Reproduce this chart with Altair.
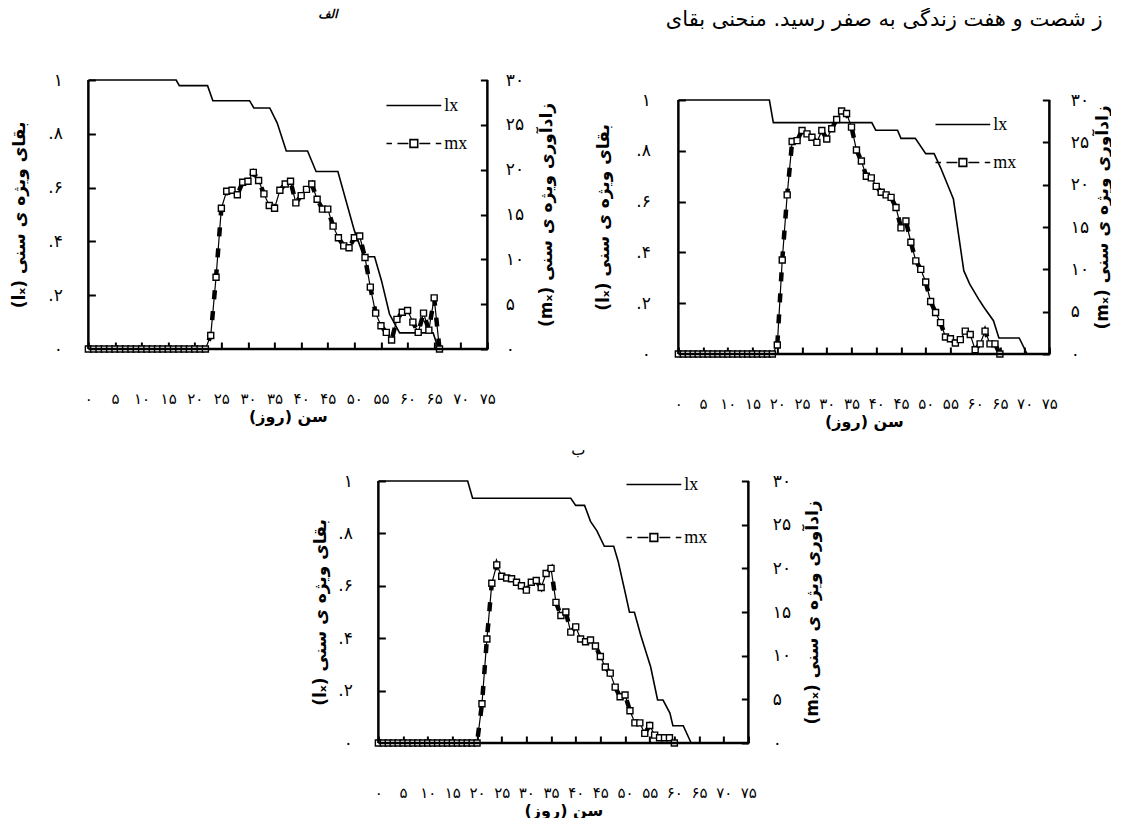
import altair as alt
import pandas as pd

# ---------------- tick values / labels ----------------
x_ticks = [0, 5, 10, 15, 20, 25, 30, 35, 40, 45, 50, 55, 60, 65, 70, 75]
x_tick_labels = ["۰", "۵", "۱۰", "۱۵", "۲۰", "۲۵", "۳۰", "۳۵", "۴۰", "۴۵",
                 "۵۰", "۵۵", "۶۰", "۶۵", "۷۰", "۷۵"]
l_ticks = [0, 0.2, 0.4, 0.6, 0.8, 1.0]
l_tick_labels = ["۰", ".۲", ".۴", ".۶", ".۸", "۱"]
r_ticks = [0, 5, 10, 15, 20, 25, 30]
r_tick_labels = ["۰", "۵", "۱۰", "۱۵", "۲۰", "۲۵", "۳۰"]

x_title = "\u200fسن (روز)\u200f"
l_title = "(lₓ) بقای ویژه ی سنی"
r_title = "(mₓ) زادآوری ویژه ی سنی"
top_text = "\u200fز شصت و هفت زندگی به صفر رسید. منحنی بقای\u200f"
title_a = "الف"
title_c = "ب"
legend_names = ["lx", "mx"]

# ---------------- panel A (top-left) ----------------
a_lx_age = [0, 16.5, 17.1, 22.4, 23.4, 30.3, 31.1, 34.1, 35.5, 37.2, 41.2, 42.8,
            46.9, 50.0, 51.8, 53.8, 55.1, 56.6, 58.5, 64.8, 65.8]
a_lx = [1.0, 1.0, 0.979, 0.979, 0.923, 0.923, 0.896, 0.896, 0.84, 0.736, 0.736,
        0.66, 0.66, 0.44, 0.343, 0.343, 0.254, 0.13, 0.06, 0.06, 0.0]
a_mx_age = list(range(0, 67))
a_mx = [0, 0, 0, 0, 0, 0, 0, 0, 0, 0, 0, 0, 0, 0, 0, 0, 0, 0, 0, 0, 0, 0, 0,
        1.5, 8.0, 15.7, 17.6, 17.7, 17.2, 18.6, 18.7, 19.7, 18.8, 17.3, 16.0,
        15.7, 17.7, 18.4, 18.7, 16.3, 17.1, 17.8, 18.4, 16.7, 15.6, 15.6, 13.7,
        12.4, 11.5, 11.3, 12.4, 12.6, 10.2, 6.9, 4.0, 2.6, 1.85, 1.0, 3.3, 4.1,
        4.3, 3.0, 1.85, 4.0, 2.1, 5.7, 0]

# ---------------- panel B (top-right) ----------------
b_lx_age = [0, 18.4, 19.2, 39.1, 39.9, 44.3, 45.0, 47.9, 50.0, 51.7, 53.0, 55.6,
            57.7, 58.9, 60.7, 61.8, 63.7, 64.8, 68.9, 70.5]
b_lx = [1.0, 1.0, 0.911, 0.911, 0.881, 0.881, 0.849, 0.849, 0.789, 0.789, 0.734,
        0.61, 0.328, 0.275, 0.216, 0.183, 0.131, 0.063, 0.063, 0.0]
b_mx_age = list(range(0, 66))
b_mx = [0, 0, 0, 0, 0, 0, 0, 0, 0, 0, 0, 0, 0, 0, 0, 0, 0, 0, 0, 0,
        1.06, 11.1, 18.8, 25.1, 25.2, 26.4, 26.0, 25.6, 25.0, 26.4, 25.4, 26.6,
        27.7, 28.7, 28.4, 26.8, 24.1, 22.8, 21.0, 20.8, 19.8, 19.1, 18.8, 18.5,
        17.3, 14.9, 15.7, 13.2, 11.0, 10.0, 8.5, 6.2, 4.9, 3.7, 2.0, 1.8, 1.3,
        1.7, 2.7, 2.3, 0.5, 1.2, 2.7, 1.2, 1.2, 0]

# ---------------- panel C (bottom) ----------------
c_lx_age = [0, 18.1, 19.1, 39.0, 40.0, 41.8, 43.0, 44.3, 45.8, 47.7, 48.6, 50.1,
            50.9, 51.9, 53.2, 55.2, 56.6, 57.7, 59.1, 59.7, 61.8, 63.4]
c_lx = [1.0, 1.0, 0.934, 0.934, 0.907, 0.907, 0.846, 0.81, 0.751, 0.751, 0.694,
        0.568, 0.499, 0.499, 0.41, 0.29, 0.164, 0.164, 0.114, 0.066, 0.066, 0.0]
c_mx_age = list(range(0, 61))
c_mx = [0, 0, 0, 0, 0, 0, 0, 0, 0, 0, 0, 0, 0, 0, 0, 0, 0, 0, 0, 0, 0,
        4.5, 11.9, 18.3, 20.4, 19.1, 18.9, 18.8, 18.4, 18.0, 17.5, 18.4, 18.6,
        17.8, 19.4, 20.0, 16.1, 14.6, 15.0, 12.7, 13.3, 11.9, 11.6, 11.8, 11.1,
        9.9, 8.7, 8.0, 6.4, 5.3, 5.5, 3.7, 2.3, 2.3, 1.1, 2.0, 0.9, 0.6, 0.6,
        0.6, 0]

FA = "DejaVu Sans"
LAT = "Liberation Serif"

lx_path = "M-1,0H1"
mx_path = ("M-1,0H-0.8M-0.6,0H-0.2M0.2,0H0.6M0.8,0H1"
           "M-0.14,-0.14H0.14V0.14H-0.14Z")


def lab_expr(vals, labs, k=1):
    parts = [f"round(datum.value*{k})=={round(v * k)} ? '{l}'" for v, l in zip(vals, labs)]
    return " : ".join(parts) + " : ''"


def panel(lx_age, lx_val, mx_age, mx_val, W, H, top_pad, title, leg_x, leg_y,
          leg_row, lpad, ltpad, rpad, rtpad):
    lx_df = pd.DataFrame({"age": lx_age, "lx": lx_val})
    mx_df = pd.DataFrame({"age": mx_age, "mx": mx_val, "series": "mx"})
    one = pd.DataFrame({"f": [0]})
    HT = H + top_pad
    stretch = HT / H

    xaxis = alt.Axis(values=x_ticks, labelExpr=lab_expr(x_ticks, x_tick_labels),
                     offset=-7, tickSize=7, tickWidth=2, tickColor="black",
                     domain=False, grid=False, labelPadding=42, labelFont=FA,
                     labelFontSize=15, labelColor="black", labelOverlap=False,
                     labelFlush=False, title=x_title, titleFont=FA,
                     titleFontSize=16, titleFontWeight="bold", titleColor="black",
                     titlePadding=2)
    xenc = alt.X("age:Q", scale=alt.Scale(domain=[0, 75], nice=False, zero=False),
                 axis=xaxis)
    laxis = alt.Axis(values=l_ticks, labelExpr=lab_expr(l_ticks, l_tick_labels, 10),
                     orient="left", offset=-7, tickSize=7, tickWidth=2,
                     tickColor="black", domain=False, grid=False,
                     labelPadding=lpad, labelFont=FA, labelFontSize=17,
                     labelColor="black", labelFlush=False, title=l_title,
                     titleFont=FA, titleFontSize=17, titleFontWeight="bold",
                     titleColor="black", titlePadding=ltpad)
    raxis = alt.Axis(values=r_ticks, labelExpr=lab_expr(r_ticks, r_tick_labels),
                     orient="right", offset=-7, tickSize=7, tickWidth=2,
                     tickColor="black", domain=False, grid=False,
                     labelPadding=rpad, labelFont=FA, labelFontSize=17,
                     labelColor="black", labelFlush=False, title=r_title,
                     titleFont=FA, titleFontSize=17, titleFontWeight="bold",
                     titleColor="black", titlePadding=rtpad, titleAngle=270,
                     titleBaseline="top")

    lx_layer = alt.Chart(lx_df).mark_line(color="black", strokeWidth=1.6).encode(
        x=xenc, y=alt.Y("lx:Q", scale=alt.Scale(domain=[0, 1.0 * stretch], nice=False),
                        axis=laxis))

    yenc = alt.Y("mx:Q", scale=alt.Scale(domain=[0, 30 * stretch], nice=False),
                 axis=raxis)
    base = alt.Chart(mx_df).encode(x=xenc, y=yenc)
    thin = base.mark_line(color="black", strokeWidth=1.2)
    dash = base.mark_line(color="black", strokeWidth=4.5, strokeDash=[9, 12])
    pts = base.mark_point(shape="square", filled=True, fill="white", stroke="black",
                          strokeWidth=1.4, size=36, opacity=1)
    leg = base.mark_point(opacity=0).encode(
        shape=alt.Shape("series:N",
                        scale=alt.Scale(domain=legend_names, range=[lx_path, mx_path]),
                        legend=alt.Legend(title=None, orient="none", legendX=leg_x,
                                          legendY=leg_y, symbolSize=3000,
                                          symbolStrokeColor="black",
                                          symbolFillColor="white",
                                          symbolStrokeWidth=1.6, symbolOpacity=1,
                                          labelFont=LAT, labelFontSize=18,
                                          labelColor="black", rowPadding=leg_row,
                                          labelOffset=2)))
    mx_layer = alt.layer(thin, dash, pts, leg)

    left = alt.Chart(one).mark_rule(color="black", strokeWidth=2.5).encode(
        x=alt.value(0), y=alt.value(top_pad), y2=alt.value(HT))
    right = alt.Chart(one).mark_rule(color="black", strokeWidth=2.5).encode(
        x=alt.value(W), y=alt.value(top_pad), y2=alt.value(HT))
    bottom = alt.Chart(one).mark_rule(color="black", strokeWidth=2.5).encode(
        x=alt.value(0), x2=alt.value(W), y=alt.value(HT))

    ch = alt.layer(lx_layer, mx_layer, left, right, bottom).resolve_scale(
        y="independent").properties(width=W, height=HT, title=title)
    return ch


pa = panel(a_lx_age, a_lx, a_mx_age, a_mx, 399, 269, 0,
           alt.TitleParams(text=title_a, font=FA, fontSize=12, fontWeight="bold",
                           fontStyle="italic", anchor="middle", dx=40,
                           offset=50, color="black"),
           297, -3, -30, 26, 19, 18, 15)
pb = panel(b_lx_age, b_lx, b_mx_age, b_mx, 371, 254, 20,
           alt.TitleParams(text=top_text, font=FA, fontSize=21, fontWeight="normal",
                           anchor="end", dx=-8, offset=50, color="black"),
           256, 16, -20, 28, 23, 21, 6)
pc = panel(c_lx_age, c_lx, c_mx_age, c_mx, 370, 262, 0,
           alt.TitleParams(text=title_c, font=FA, fontSize=15, fontWeight="normal",
                           anchor="middle", dx=15, offset=-2, color="black"),
           247, -25, 15, 26, 8, 24, 14)

top = alt.hconcat(pa, pb, spacing=39).resolve_scale(
    shape="independent").resolve_legend(shape="independent")

chart = alt.vconcat(top, pc, spacing=14, center=True).resolve_scale(
    shape="independent").resolve_legend(shape="independent").configure_view(
    stroke=None).properties(padding={"left": 2, "top": 0, "right": 0, "bottom": 0})

chart.save("out.html", embed_options={"renderer": "svg", "actions": False})
